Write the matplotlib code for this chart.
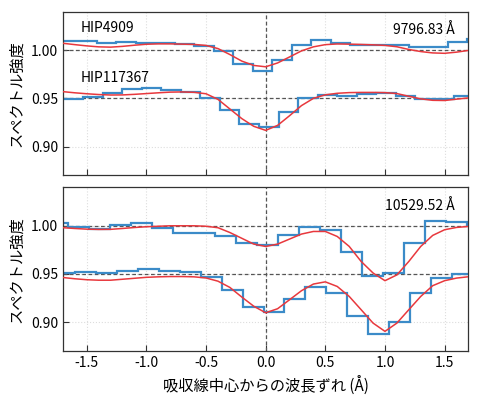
import numpy as np
import matplotlib
matplotlib.use("Agg")
import matplotlib.pyplot as plt

plt.rcParams['font.family'] = ['Noto Sans CJK JP', 'DejaVu Sans']
plt.rcParams['axes.unicode_minus'] = False

# model sampling grid (Å)
x_model = [-1.7, -1.6, -1.5, -1.4, -1.3, -1.2, -1.1, -1.0, -0.9, -0.8, -0.7, -0.6,
           -0.5, -0.4, -0.3, -0.2, -0.1, 0.0, 0.1, 0.2, 0.3, 0.4, 0.5, 0.6,
           0.7, 0.8, 0.9, 1.0, 1.1, 1.2, 1.3, 1.4, 1.5, 1.6, 1.7]

# --- 9796.83 A line ---
edges_a1 = [-1.744, -1.5805, -1.417, -1.2535, -1.09, -0.9265, -0.763, -0.5995, -0.436,
            -0.2725, -0.109, 0.0545, 0.218, 0.3815, 0.545, 0.7085, 0.872, 1.0355,
            1.199, 1.3625, 1.526, 1.6895, 1.853]
obs_a1 = [1.0097, 1.0097, 1.0076, 1.0088, 1.0080, 1.0072, 1.0068, 1.0045, 0.9995,
          0.9860, 0.9780, 0.9900, 1.0050, 1.0104, 1.0080, 1.0050, 1.0058, 1.0053,
          1.0032, 1.0032, 1.0088, 1.0115]
model_a1 = [1.0072, 1.0058, 1.0045, 1.0035, 1.0032, 1.0040, 1.0052, 1.0062, 1.0066,
            1.0066, 1.0063, 1.0060, 1.0050, 1.0017, 0.9955, 0.9887, 0.9842, 0.9828,
            0.9868, 0.9930, 0.9993, 1.0035, 1.0058, 1.0065, 1.0063, 1.0060, 1.0056,
            1.0050, 1.0036, 1.0008, 0.9986, 0.9972, 0.9968, 0.9980, 0.9998]

edges_a2 = [-1.854, -1.691, -1.5275, -1.364, -1.2005, -1.037, -0.8735, -0.71, -0.5465,
            -0.383, -0.2195, -0.056, 0.1075, 0.271, 0.4345, 0.598, 0.7615, 0.925,
            1.0885, 1.252, 1.4155, 1.579, 1.7425]
obs_a2 = [0.9495, 0.9495, 0.9514, 0.9556, 0.9597, 0.9610, 0.9590, 0.9566, 0.9500,
          0.9380, 0.9236, 0.9208, 0.9354, 0.9500, 0.9535, 0.9528, 0.9550, 0.9556,
          0.9520, 0.9490, 0.9490, 0.9520]
model_a2 = [0.9570, 0.9558, 0.9548, 0.9540, 0.9535, 0.9536, 0.9542, 0.9550, 0.9558,
            0.9565, 0.9567, 0.9563, 0.9548, 0.9490, 0.9390, 0.9290, 0.9210, 0.9168,
            0.9220, 0.9320, 0.9425, 0.9500, 0.9537, 0.9553, 0.9560, 0.9562, 0.9562,
            0.9560, 0.9550, 0.9522, 0.9495, 0.9480, 0.9478, 0.9492, 0.9505]

# --- 10529.52 A line ---
edges_b1 = [-1.830, -1.654, -1.478, -1.303, -1.127, -0.951, -0.775, -0.599, -0.424,
            -0.248, -0.072, 0.104, 0.280, 0.455, 0.631, 0.807, 0.983, 1.159, 1.334,
            1.510, 1.686, 1.862]
obs_b1 = [1.0026, 0.9992, 0.9965, 1.0012, 1.0024, 0.9974, 0.9930, 0.9920, 0.9897,
          0.9818, 0.9805, 0.9905, 0.9992, 0.9960, 0.9733, 0.9476, 0.9508, 0.9818,
          1.0045, 1.0035, 1.0005]
model_b1 = [0.9980, 0.9972, 0.9965, 0.9962, 0.9963, 0.9972, 0.9982, 0.9990, 0.9995,
            1.0000, 1.0000, 1.0000, 0.9995, 0.9980, 0.9930, 0.9870, 0.9810, 0.9785,
            0.9810, 0.9862, 0.9914, 0.9941, 0.9941, 0.9889, 0.9786, 0.9630, 0.9510,
            0.9430, 0.9490, 0.9630, 0.9786, 0.9900, 0.9959, 0.9983, 0.9993]

edges_b2 = [-1.773, -1.598, -1.422, -1.247, -1.071, -0.896, -0.720, -0.545, -0.369,
            -0.194, -0.018, 0.157, 0.333, 0.509, 0.684, 0.860, 1.035, 1.211, 1.386,
            1.562, 1.737]
obs_b2 = [0.9512, 0.9525, 0.9515, 0.9533, 0.9551, 0.9534, 0.9518, 0.9473, 0.9335,
          0.9156, 0.9110, 0.9235, 0.9363, 0.9300, 0.9063, 0.8878, 0.9004, 0.9300,
          0.9463, 0.9500]
model_b2 = [0.9463, 0.9450, 0.9440, 0.9435, 0.9435, 0.9445, 0.9455, 0.9465, 0.9470,
            0.9473, 0.9473, 0.9470, 0.9458, 0.9425, 0.9360, 0.9260, 0.9165, 0.9097,
            0.9139, 0.9232, 0.9326, 0.9395, 0.9418, 0.9370, 0.9267, 0.9129, 0.8990,
            0.8904, 0.8990, 0.9129, 0.9267, 0.9378, 0.9430, 0.9457, 0.9471]

blue = '#3b8bc8'
red = '#e8383d'

fig, axes = plt.subplots(2, 1, figsize=(4.8, 4.03), dpi=100, sharex=True)
fig.subplots_adjust(left=0.131, right=0.976, top=0.971, bottom=0.129, hspace=0.072)

panels = [
    (axes[0], [(edges_a1, obs_a1, model_a1), (edges_a2, obs_a2, model_a2)], '9796.83 Å'),
    (axes[1], [(edges_b1, obs_b1, model_b1), (edges_b2, obs_b2, model_b2)], '10529.52 Å'),
]

for ax, series, label in panels:
    ax.grid(True, color='#dddddd', ls=':', lw=0.8)
    ax.set_axisbelow(True)
    for lvl in (1.00, 0.95):
        ax.axhline(lvl, color='#555555', ls=(0, (3, 2)), lw=0.9, zorder=1)
    ax.axvline(0.0, color='#555555', ls=(0, (3, 2)), lw=0.9, zorder=1)
    for edges, obs, model in series:
        ax.stairs(obs, edges, baseline=None, color=blue, lw=1.6, zorder=2)
        ax.plot(x_model, model, color=red, lw=1.1, zorder=3)
    ax.set_xlim(-1.7, 1.7)
    ax.set_ylim(0.87, 1.04)
    ax.set_yticks([0.90, 0.95, 1.00])
    ax.set_xticks([-1.5, -1.0, -0.5, 0.0, 0.5, 1.0, 1.5])
    ax.tick_params(direction='in', length=4, width=0.8, labelsize=10, color='#333333')
    for s in ax.spines.values():
        s.set_color('#333333')
        s.set_linewidth(0.9)
    ax.set_ylabel('スペクトル強度', fontsize=11)
    ax.text(0.965, 0.886, label, transform=ax.transAxes, ha='right', va='center', fontsize=10)

axes[0].text(-1.555, 1.0226, 'HIP4909', ha='left', va='center', fontsize=10)
axes[0].text(-1.555, 0.9713, 'HIP117367', ha='left', va='center', fontsize=10)
axes[1].set_xlabel('吸収線中心からの波長ずれ (Å)', fontsize=11)
fig.align_ylabels(axes)

plt.savefig('out.png', dpi=100)
